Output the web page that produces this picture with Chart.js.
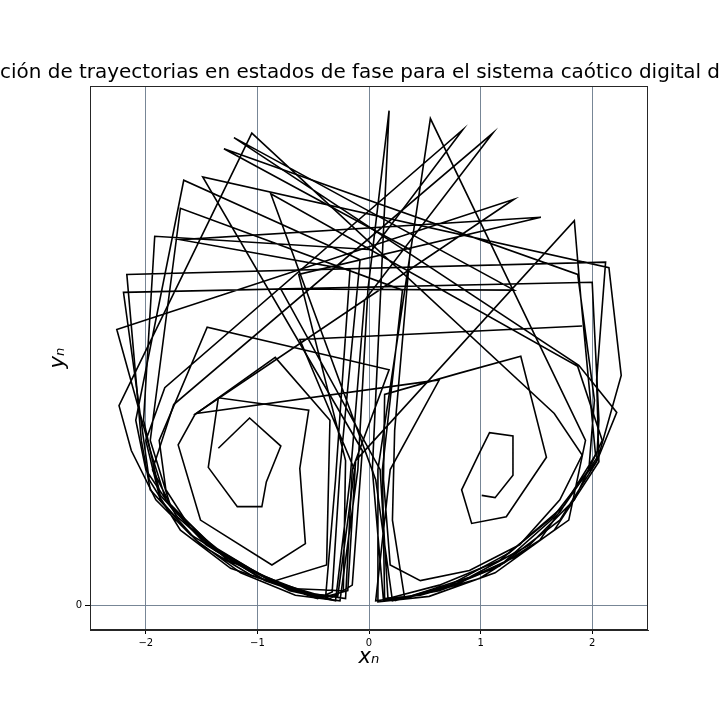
<!DOCTYPE html>
<html>
<head>
<meta charset="utf-8">
<script src="https://cdn.jsdelivr.net/npm/chart.js@4.4.1/dist/chart.umd.min.js"></script>
<style>
html,body{margin:0;padding:0;background:#fff;}
#wrap{width:720px;height:720px;}
</style>
</head>
<body>
<div id="wrap"><canvas id="c" width="720" height="720"></canvas></div>
<script>
// Trajectory 1 (starts in the left lobe)
const traj1X = [-1.35,-1.07,-0.79,-0.92,-0.96,-1.18,-1.44,-1.35,-0.54,-0.62,-0.57,-0.87,-1.51,-1.71,-1.56,-0.84,-0.35,-0.38,-0.84,-1.26,-1.60,-1.82,-1.88,-1.45,0.18,-0.15,-0.21,-0.62,-1.06,-1.51,-1.87,-2.00,-1.83,0.84,0.03,-1.92,-2.02,-1.87,-1.46,-0.96,-0.42,-0.19,-0.12,1.84,1.90,2.03,1.71,1.17,0.63,0.13,0.03,0.18,-0.01,-0.10,-0.26,-0.66,-1.15,-1.55,-1.96,-2.04,-2.17,2.12,2.04,2.06,1.66,1.13,0.54,0.08,0.08,0.55,1.94,1.79,1.35,0.81,0.32,0.21,0.23,0.37,-1.30,1.87,2.02,1.97,1.53,0.99,0.46,0.14,0.12,0.30,-1.69,-1.96,-1.78,-1.38,-0.88,-0.35,-0.15,-0.06,-1.49,2.15,2.26,2.06,1.75,1.26,0.72,0.23];
const traj1Y = [1.40,1.67,1.42,1.10,0.88,0.88,1.23,1.85,1.74,1.22,0.55,0.36,0.76,1.43,1.70,2.21,1.65,0.36,0.22,0.40,0.69,1.03,1.47,2.48,2.10,1.21,0.06,0.12,0.27,0.54,0.94,1.47,1.94,4.24,3.17,3.29,1.65,0.98,0.54,0.24,0.07,0.13,1.29,3.43,2.72,1.34,0.83,0.35,0.13,0.04,1.21,4.41,2.81,1.21,0.04,0.09,0.29,0.58,1.03,1.47,2.95,3.06,2.01,1.28,0.67,0.29,0.08,0.03,1.21,4.34,1.47,0.76,0.45,0.20,0.06,0.76,1.56,3.17,4.07,2.95,1.83,1.21,0.58,0.24,0.09,0.06,1.21,2.81,3.54,1.47,0.89,0.51,0.22,0.06,0.18,1.38,3.82,3.01,2.05,1.34,0.89,0.47,0.18,0.04];
// Trajectory 2 (starts in the right lobe)
const traj2X = [1.01,1.13,1.29,1.29,1.08,0.98,0.83,0.92,1.23,1.59,1.36,0.81,0.14,0.13,0.19,0.46,0.90,1.35,1.71,1.91,1.66,-1.05,-2.24,-2.13,-1.91,-1.60,-1.15,-0.71,-0.30,-0.17,-0.04,1.11,-1.75,-1.94,-1.73,-1.38,-0.93,-0.46,-0.33,-0.26,-0.08,-1.66,-2.09,-2.00,-1.71,-1.29,-0.79,-0.39,-0.30,-0.17,-1.69,1.54,-0.63,-0.21,-0.23,-0.71,-1.24,-1.69,-1.97,-2.20,2.00,2.06,2.04,1.66,1.17,0.63,0.17,0.10,-0.79,1.30,-1.21,1.88,2.22,2.04,1.71,1.21,0.68,0.21,0.06,-0.88,1.87,2.09,1.84,1.44,0.90,0.37,0.06,0.19,0.63,-1.55,1.30,-2.26,-1.96,-1.82,-1.42,-0.97,-0.53,-0.28,-0.13,-0.62,1.91];
const traj2Y = [0.98,0.96,1.16,1.51,1.54,1.34,1.03,0.73,0.79,1.32,2.22,2.07,1.88,1.12,0.36,0.22,0.31,0.54,0.94,1.34,1.71,4.21,1.78,1.38,0.94,0.63,0.36,0.13,0.04,1.12,2.72,4.21,1.79,1.21,0.80,0.49,0.22,0.06,0.12,1.21,3.08,3.79,1.65,1.21,0.78,0.45,0.18,0.06,1.12,2.99,3.26,3.46,2.95,1.29,0.13,0.15,0.33,0.67,1.12,2.79,2.88,1.65,1.29,0.80,0.40,0.18,0.06,1.21,2.82,2.81,4.17,2.14,1.72,1.28,0.76,0.38,0.15,0.04,1.12,3.67,2.13,1.47,0.94,0.54,0.25,0.08,0.04,1.21,2.01,1.71,3.62,2.46,1.38,0.94,0.54,0.27,0.10,0.08,1.21,2.37,2.49];
const xTicks = [-2,-1,0,1,2];
const yTicks = [0];
const titleText = 'ción de trayectorias en estados de fase para el sistema caótico digital d';
const xLabel = 'xₙ';
const yLabel = 'yₙ';

function pts(xs, ys){ return xs.map((x,i)=>({x:x, y:ys[i]})); }

const frame = {
  id:'frame',
  afterDraw(chart){
    const a = chart.chartArea, ctx = chart.ctx;
    ctx.save();
    ctx.strokeStyle = '#262626';
    ctx.lineWidth = 1;
    ctx.strokeRect(Math.round(a.left)+0.5, Math.round(a.top)+0.5, Math.round(a.right-a.left)-1, Math.round(a.bottom-a.top)-1);
    ctx.restore();
  }
};

const fmt = v => (v < 0 ? '\u2212' + Math.abs(v) : String(v));
const gridCol = 'rgba(112,128,144,0.95)';

new Chart(document.getElementById('c'), {
  type: 'scatter',
  data: {
    datasets: [
      {data: pts(traj1X, traj1Y), showLine: true, borderColor: '#000', borderWidth: 1.6, pointRadius: 0, tension: 0, fill: false},
      {data: pts(traj2X, traj2Y), showLine: true, borderColor: '#000', borderWidth: 1.6, pointRadius: 0, tension: 0, fill: false}
    ]
  },
  options: {
    responsive: false,
    animation: false,
    devicePixelRatio: 1,
    layout: {padding: 0},
    plugins: {
      legend: {display: false},
      tooltip: {enabled: false},
      title: {
        display: true,
        text: titleText,
        color: '#000',
        font: {family: 'DejaVu Sans', size: 20, weight: 'normal', lineHeight: 1.2},
        padding: {top: 61, bottom: 1}
      }
    },
    scales: {
      x: {
        type: 'linear', min: -2.5, max: 2.5,
        afterBuildTicks: s => { s.ticks = xTicks.map(v => ({value: v})); },
        afterFit: s => { s.height = 90; },
        ticks: {color: '#000', font: {family: 'DejaVu Sans', size: 10}, padding: 3, callback: fmt, maxRotation: 0},
        grid: {color: gridCol, lineWidth: 1, tickColor: '#000', tickLength: 4, drawTicks: true},
        border: {display: true, color: '#262626', width: 1},
        title: {display: true, text: xLabel, color: '#000', font: {family: 'DejaVu Sans', size: 21, style: 'italic'}, padding: {top: 0, bottom: 50}}
      },
      y: {
        type: 'linear', min: -0.22, max: 4.63,
        afterBuildTicks: s => { s.ticks = yTicks.map(v => ({value: v})); },
        afterFit: s => { s.width = 90; },
        ticks: {color: '#000', font: {family: 'DejaVu Sans', size: 10}, padding: 3, callback: fmt},
        grid: {color: gridCol, lineWidth: 1, tickColor: '#000', tickLength: 5, drawTicks: true},
        border: {display: true, color: '#262626', width: 1},
        title: {display: true, text: yLabel, color: '#000', font: {family: 'DejaVu Sans', size: 21, style: 'italic'}, padding: {top: 46, bottom: 0}}
      },
      y2: {
        type: 'linear', position: 'right', min: 0, max: 1,
        afterFit: s => { s.width = 72; },
        ticks: {display: false},
        grid: {display: false, drawTicks: false},
        border: {display: false}
      }
    }
  },
  plugins: [frame]
});
</script>
</body>
</html>
